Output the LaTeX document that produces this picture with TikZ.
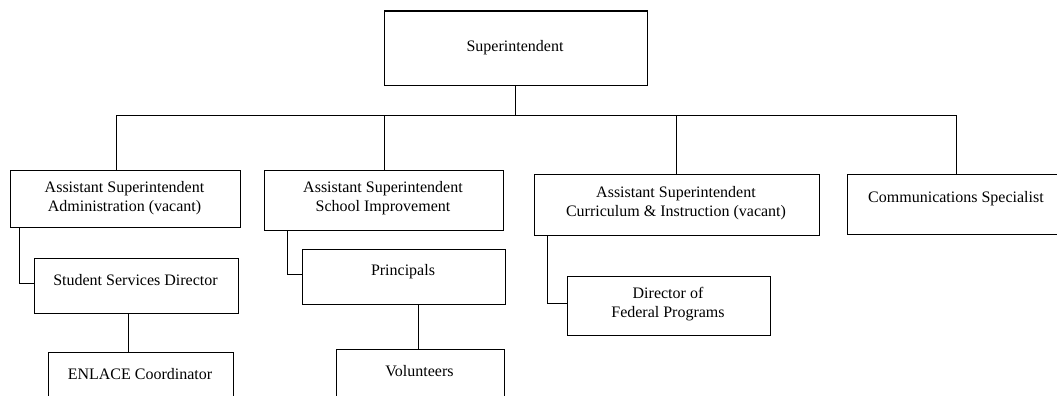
\documentclass[tikz,border=0pt]{standalone}
\usepackage{fontspec}
\setmainfont{Liberation Serif}
\begin{document}
\begin{tikzpicture}[x=1pt,y=-1pt,
  box/.style 2 args={draw, line width=1.1pt, inner sep=0pt, anchor=north west,
    minimum width=#1pt, minimum height=#2pt},
  txt/.style={font=\fontsize{16}{19}\selectfont, align=center, anchor=base, inner sep=0pt},
  link/.style={line width=1.1pt}]
\useasboundingbox (0,0) rectangle (1057,396);

% boxes (top-left corner, width, height)
\node[box={263}{74}]  (sup)    at (383.5,10.5)  {};
\node[box={230}{57}]  (asadm)  at (9.5,169.5)   {};
\node[box={239}{60}]  (assi)   at (263.5,169.5) {};
\node[box={285}{61}]  (asci)   at (533.5,173.5) {};
\node[box={219}{60}]  (comm)   at (846.5,173.5) {};
\node[box={204}{55}]  (ssd)    at (33.5,257.5)  {};
\node[box={203}{55}]  (prin)   at (301.5,248.5) {};
\node[box={203}{59}]  (dfp)    at (566.5,275.5) {};
\node[box={185}{55}]  (enl)    at (47.5,351.5)  {};
\node[box={168}{55}]  (vol)    at (335.5,348.5) {};

% titles (anchored on the baseline of their last line)
\node[txt] (supT)   at (515,52)     {Superintendent};
\node[txt] (asadmT) at (124.5,211.7){Assistant Superintendent\\Administration (vacant)};
\node[txt] (assiT)  at (383,211.7)  {Assistant Superintendent\\School Improvement};
\node[txt] (asciT)  at (676,216.3)  {Assistant Superintendent\\Curriculum \& Instruction (vacant)};
\node[txt] (commT)  at (956,202.7)  {Communications Specialist};
\node[txt] (ssdT)   at (135.5,285.3){Student Services Director};
\node[txt] (prinT)  at (403,275.7)  {Principals};
\node[txt] (dfpT)   at (668,317.5)  {Director of\\Federal Programs};
\node[txt] (enlT)   at (140,379)    {ENLACE Coordinator};
\node[txt] (volT)   at (419.5,376)  {Volunteers};

% reporting lines
\coordinate (busL) at (116.5,115.5);
\coordinate (busR) at (956.5,115.5);
\coordinate (k1) at (19.5,0);
\coordinate (k2) at (287.5,0);
\coordinate (k3) at (547.5,0);
\coordinate (k4) at (128.5,0);

\draw[link] (sup.south) -- (sup.south |- busL);
\draw[link] (busL |- asadm.north) -- (busL) -- (busR) -- (busR |- comm.north);
\draw[link] (384.5,115.5) -- (384.5,169.5);
\draw[link] (asci.north -| 676.5,0) -- (676.5,115.5);

\draw[link] (k1 |- asadm.south) -- (k1 |- 0,283.5) -- (ssd.west |- 0,283.5);
\draw[link] (k2 |- assi.south) -- (k2 |- 0,274.5) -- (prin.west |- 0,274.5);
\draw[link] (k3 |- asci.south) -- (k3 |- 0,303.5) -- (dfp.west |- 0,303.5);
\draw[link] (k4 |- ssd.south) -- (k4 |- enl.north);
\draw[link] (418.5,0 |- prin.south) -- (418.5,0 |- vol.north);
\end{tikzpicture}
\end{document}
